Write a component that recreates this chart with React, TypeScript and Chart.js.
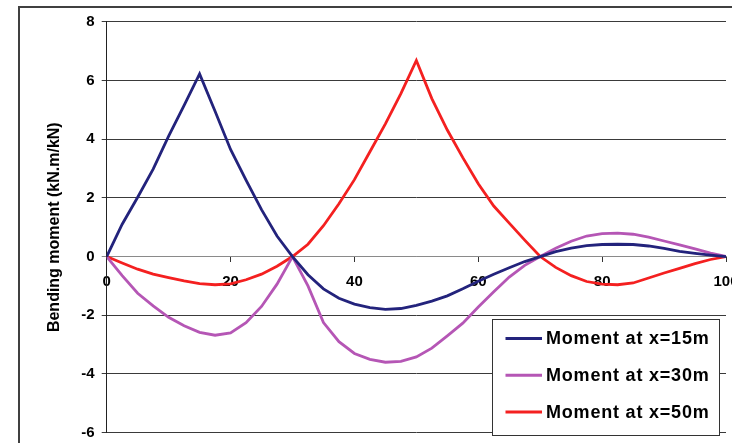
import React, { useEffect, useRef } from "react";
import { Chart, registerables } from "chart.js";

Chart.register(...registerables);

// Position along the beam (m)
const positions = [
  0, 2.5, 5, 7.5, 10, 12.5, 15, 17.5, 20, 22.5, 25, 27.5, 30,
  32.5, 35, 37.5, 40, 42.5, 45, 47.5, 50, 52.5, 55, 57.5, 60, 62.5, 65, 67.5, 70,
  72.5, 75, 77.5, 80, 82.5, 85, 87.5, 90, 92.5, 95, 97.5, 100,
];

const moment15 = [
  0, 1.1, 2.02, 2.98, 4.1, 5.15, 6.22, 4.95, 3.65, 2.6, 1.6, 0.7, 0,
  -0.62, -1.1, -1.42, -1.62, -1.74, -1.8, -1.77, -1.66, -1.52, -1.34, -1.1, -0.84, -0.6, -0.38, -0.17, 0,
  0.17, 0.29, 0.37, 0.41, 0.42, 0.41, 0.36, 0.28, 0.18, 0.11, 0.05, 0,
];

const moment30 = [
  0, -0.65, -1.25, -1.68, -2.07, -2.36, -2.58, -2.68, -2.6, -2.25, -1.7, -0.94, 0,
  -1.0, -2.25, -2.9, -3.3, -3.5, -3.6, -3.57, -3.42, -3.12, -2.7, -2.27, -1.72, -1.2, -0.7, -0.3, 0,
  0.28, 0.52, 0.7, 0.78, 0.8, 0.76, 0.66, 0.53, 0.4, 0.26, 0.12, 0,
];

const moment50 = [
  0, -0.22, -0.43, -0.6, -0.72, -0.83, -0.92, -0.96, -0.93, -0.79, -0.6, -0.33, 0,
  0.42, 1.05, 1.8, 2.62, 3.57, 4.52, 5.55, 6.68, 5.38, 4.31, 3.37, 2.48, 1.72, 1.14, 0.56, 0,
  -0.37, -0.65, -0.85, -0.94, -0.96, -0.9, -0.73, -0.56, -0.4, -0.24, -0.1, 0,
];

const seriesLabels = ["Moment at x=15m", "Moment at x=30m", "Moment at x=50m"];
const seriesColors = ["#23237C", "#B556B5", "#F42020"];

const xMin = 0;
const xMax = 100;
const xStep = 20;
const yMin = -6;
const yMax = 8;
const yStep = 2;
const yAxisTitle = "Bending moment (kN.m/kN)";

const FONT = '"Liberation Sans", Arial, sans-serif';

const toPoints = (vals: number[]) => positions.map((x, i) => ({ x, y: vals[i] }));

const framePlugin = {
  id: "outerFrame",
  beforeDraw(chart: any) {
    const { ctx, width, height } = chart;
    ctx.save();
    ctx.fillStyle = "#ffffff";
    ctx.fillRect(0, 0, width, height);
    ctx.strokeStyle = "#404040";
    ctx.lineWidth = 2;
    ctx.beginPath();
    ctx.moveTo(19, height + 5);
    ctx.lineTo(19, 7);
    ctx.lineTo(width + 5, 7);
    ctx.stroke();
    ctx.restore();
  },
};

const legendPlugin = {
  id: "boxLegend",
  afterDraw(chart: any) {
    const { ctx, chartArea } = chart;
    const right = chartArea.right - 7;
    const left = right - 227;
    const top = chartArea.bottom - 113.5;
    const h = 116;
    ctx.save();
    ctx.fillStyle = "#ffffff";
    ctx.fillRect(left, top, right - left, h);
    ctx.strokeStyle = "#333333";
    ctx.lineWidth = 1;
    ctx.strokeRect(Math.round(left) + 0.5, Math.round(top) + 0.5, Math.round(right - left), h);
    chart.data.datasets.forEach((ds: any, i: number) => {
      const y = top + 19.3 + i * 36.7;
      ctx.strokeStyle = ds.borderColor;
      ctx.lineWidth = 3;
      ctx.beginPath();
      ctx.moveTo(left + 13.5, y);
      ctx.lineTo(left + 50, y);
      ctx.stroke();
      ctx.fillStyle = "#000000";
      ctx.font = `bold 18px ${FONT}`;
      try {
        (ctx as any).letterSpacing = "0.8px";
      } catch (e) {}
      ctx.textBaseline = "middle";
      ctx.textAlign = "left";
      ctx.fillText(ds.label, left + 54, y + 1);
      try {
        (ctx as any).letterSpacing = "0px";
      } catch (e) {}
    });
    ctx.restore();
  },
};

export default function App() {
  const canvasRef = useRef<HTMLCanvasElement | null>(null);

  useEffect(() => {
    const canvas = canvasRef.current;
    if (!canvas) return;
    const datasets = [moment15, moment30, moment50].map((vals, i) => ({
      label: seriesLabels[i],
      data: toPoints(vals),
      borderColor: seriesColors[i],
      backgroundColor: seriesColors[i],
      borderWidth: 2.8,
      pointRadius: 0,
      tension: 0,
      fill: false,
    }));
    const chart = new Chart(canvas, {
      type: "line",
      data: { datasets },
      options: {
        animation: false,
        responsive: false,
        devicePixelRatio: 1,
        layout: { padding: { left: 0, right: 6, top: 21.7, bottom: 10.3 } },
        plugins: {
          legend: { display: false },
          tooltip: { enabled: false },
        },
        scales: {
          x: {
            type: "linear",
            min: xMin,
            max: xMax,
            position: { y: 0 } as any,
            afterFit: (scale: any) => {
              scale.paddingLeft = 0;
              scale.paddingRight = 0;
              scale.paddingTop = 0;
              scale.paddingBottom = 0;
            },
            ticks: {
              stepSize: xStep,
              autoSkip: false,
              maxRotation: 0,
              padding: 11,
              color: "#000000",
              font: { family: FONT, size: 15, weight: "bold" },
            },
            grid: {
              drawOnChartArea: false,
              drawTicks: true,
              tickLength: 5,
              color: "#333333",
            },
            border: { display: true, color: "#8a8a8a", width: 1 },
          },
          y: {
            type: "linear",
            min: yMin,
            max: yMax,
            position: "left",
            afterFit: (scale: any) => {
              scale.width = 106.7;
              scale.paddingTop = 0;
              scale.paddingBottom = 0;
              scale.paddingLeft = 0;
              scale.paddingRight = 0;
            },
            ticks: {
              stepSize: yStep,
              padding: 7,
              color: "#000000",
              font: { family: FONT, size: 15, weight: "bold" },
            },
            grid: {
              color: (ctx: any) => (ctx.tick && ctx.tick.value === 0 ? "#8a8a8a" : "#3a3a3a"),
              tickLength: 5,
              lineWidth: 1,
            },
            border: { display: true, color: "#222222", width: 1 },
            title: {
              display: true,
              text: yAxisTitle,
              color: "#000000",
              font: { family: FONT, size: 16, weight: "bold" },
              padding: { top: 45, bottom: 0 },
            },
          },
        },
      },
      plugins: [framePlugin, legendPlugin],
    });
    return () => chart.destroy();
  }, []);

  return (
    <div style={{ position: "absolute", left: 0, top: 0, width: 732, height: 443 }}>
      <canvas ref={canvasRef} width={732} height={443} style={{ width: 732, height: 443, display: "block" }} />
    </div>
  );
}
